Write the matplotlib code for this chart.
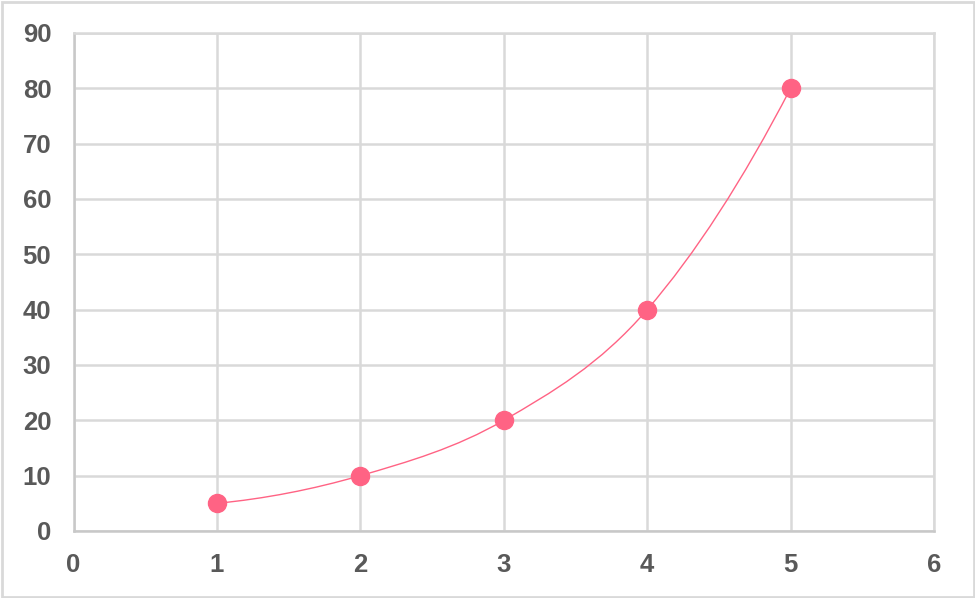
import matplotlib
matplotlib.use("Agg")
import matplotlib.pyplot as plt
from matplotlib.path import Path
from matplotlib.patches import PathPatch, Rectangle

x_vals = [1, 2, 3, 4, 5]
y_vals = [5, 10, 20, 40, 80]
x_ticks = [0, 1, 2, 3, 4, 5, 6]
y_ticks = [0, 10, 20, 30, 40, 50, 60, 70, 80, 90]

pink = "#ff6384"
grid_c = "#d9d9d9"
text_c = "#595959"

plt.rcParams['font.family'] = ['Liberation Sans', 'DejaVu Sans']

fig = plt.figure(figsize=(9.75, 5.98), dpi=100)
ax = fig.add_axes([73.5 / 975, 1 - 531 / 598, (934 - 73.5) / 975, (531 - 33) / 598])

# smooth line through the points (Catmull-Rom as cubic bezier,
# end tangents from a quadratic extrapolation of the neighbours)
pts = list(zip(x_vals, y_vals))
first = tuple(3 * a - 3 * b + c for a, b, c in zip(pts[0], pts[1], pts[2]))
last = tuple(3 * a - 3 * b + c for a, b, c in zip(pts[-1], pts[-2], pts[-3]))
ext = [first] + pts + [last]
verts = [pts[0]]
codes = [Path.MOVETO]
for i in range(1, len(ext) - 2):
    p0, p1, p2, p3 = ext[i - 1], ext[i], ext[i + 1], ext[i + 2]
    c1 = (p1[0] + (p2[0] - p0[0]) / 6, p1[1] + (p2[1] - p0[1]) / 6)
    c2 = (p2[0] - (p3[0] - p1[0]) / 6, p2[1] - (p3[1] - p1[1]) / 6)
    verts += [c1, c2, p2]
    codes += [Path.CURVE4] * 3
ax.add_patch(PathPatch(Path(verts, codes), facecolor="none", edgecolor=pink, lw=1.0, zorder=3))

ax.plot(x_vals, y_vals, linestyle="none", marker="o", markersize=13,
        color=pink, markeredgecolor=pink, zorder=4)

ax.set_xlim(0, 6)
ax.set_ylim(0, 90)
ax.set_xticks(x_ticks)
ax.set_yticks(y_ticks)
ax.grid(True, color=grid_c, lw=1.8)
ax.set_axisbelow(True)
for s in ax.spines.values():
    s.set_color(grid_c)
    s.set_linewidth(1.8)
ax.spines['left'].set_color("#c8c8c8")
ax.spines['bottom'].set_color("#c8c8c8")
ax.tick_params(length=0, labelsize=18.5, labelcolor=text_c)
ax.tick_params(axis='x', pad=16)
ax.tick_params(axis='y', pad=16)
for lab in ax.get_xticklabels() + ax.get_yticklabels():
    lab.set_fontweight("bold")

# outer chart border
fig.patches.append(Rectangle((1.5 / 975, 1.5 / 598), 1 - 3 / 975, 1 - 3 / 598,
                             transform=fig.transFigure, fill=False,
                             edgecolor=grid_c, lw=2))

fig.savefig("out.png", dpi=100)
